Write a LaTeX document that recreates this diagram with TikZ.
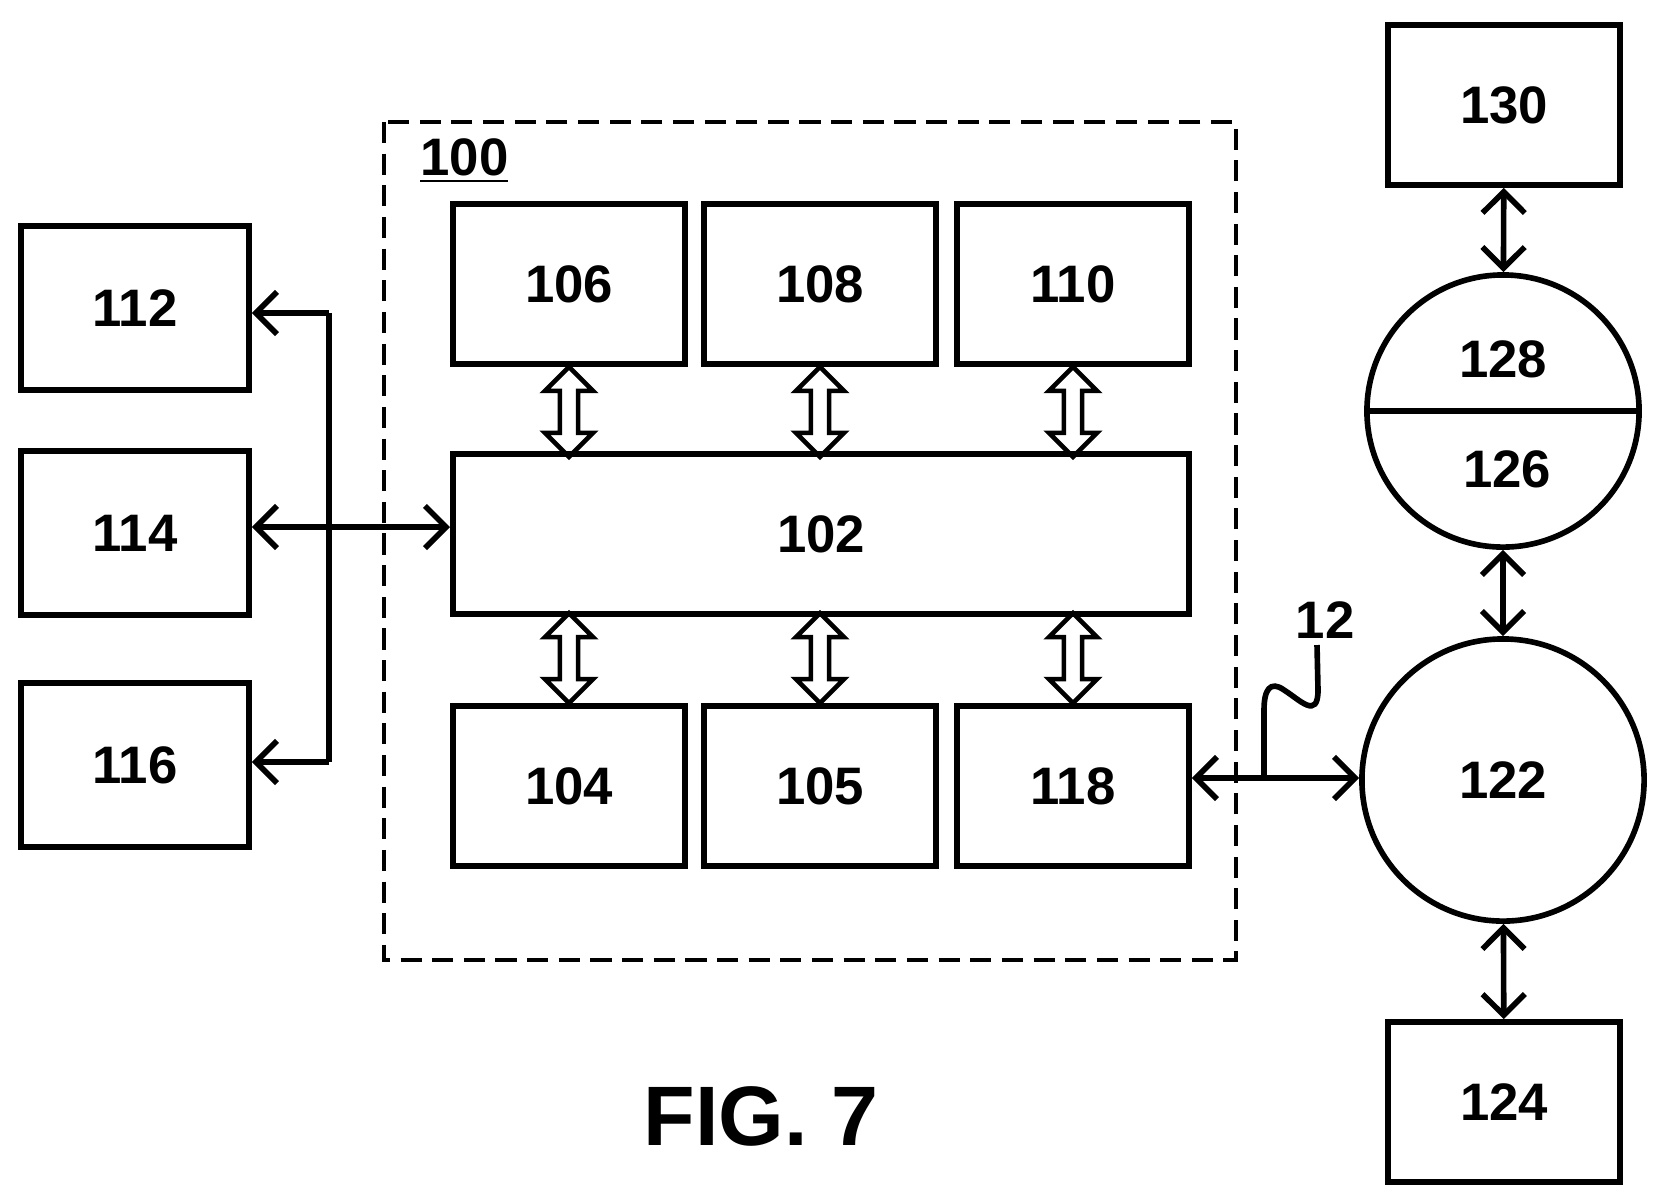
\documentclass[tikz,border=0pt]{standalone}
\usepackage{fontspec}
\setmainfont{Liberation Sans}
\usetikzlibrary{positioning,shapes.arrows,calc,arrows.meta}
\tikzset{
  blk/.style={draw, line width=1.6pt, minimum width=2.32cm, minimum height=1.6cm, font=\fontsize{15}{18}\selectfont\bfseries},
  wide/.style={blk, minimum width=7.36cm},
  side/.style={blk, minimum width=2.28cm, minimum height=1.64cm},
  rnd/.style={draw, line width=1.6pt, circle, inner sep=0pt, font=\fontsize{15}{18}\selectfont\bfseries},
  hol/.style={draw, line width=1.3pt, double arrow, rotate=90, minimum height=0.9cm, minimum width=0.48cm, double arrow head extend=0.12cm, inner sep=0.05cm},
  link/.style={line width=1.6pt, <->, >={Straight Barb[length=6pt,width=12pt]}},
  tip/.style={line width=1.6pt, ->, >={Straight Barb[length=6pt,width=12pt]}}
}
\begin{document}
\begin{tikzpicture}[x=0.01cm, y=-0.01cm]
\useasboundingbox (0,0) rectangle (1655,1199);
% frame 100
\draw[line width=1.3pt, dash pattern=on 6pt off 3pt] (384,122) rectangle (1236,960);
\node[font=\fontsize{15}{18}\selectfont\bfseries, anchor=west] (lbl) at (408,161) {\underline{100}};
% inner blocks
\node[blk] (b106) at (569,284) {106};
\node[blk] (b108) at (820,284) {108};
\node[blk] (b110) at (1073,284) {110};
\node[wide] (b102) at (821,534) {102};
\node[blk] (b104) at (569,786) {104};
\node[blk] (b105) at (820,786) {105};
\node[blk] (b118) at (1073,786) {118};
\foreach \u/\v in {b106/b104,b108/b105,b110/b118}{
  \node[hol] at ($(\u.south)+(0,45)$) {};
  \node[hol] at ($(\v.north)+(0,-45)$) {};
}
% left blocks
\node[side] (b112) at (135,308) {112};
\node[side] (b114) at (135,533) {114};
\node[side] (b116) at (135,765) {116};
\coordinate (j1) at (329,313);
\coordinate (j2) at (329,762);
\draw[tip] (j1) -- (b112.east |- j1);
\draw[tip] (j2) -- (b116.east |- j2);
\draw[line width=1.6pt] (j1) -- (j2);
\draw[link] (b114.east |- 0,527) -- (b102.west |- 0,527);
% right side
\node[blk] (b130) at (1504,105) {130};
\node[rnd, minimum size=2.72cm] (c128) at (1503,411) {};
\draw[line width=1.6pt] (c128.west) -- (c128.east);
\node[font=\fontsize{15}{18}\selectfont\bfseries] at (1503,359) {128};
\node[font=\fontsize{15}{18}\selectfont\bfseries] at (1507,469) {126};
\node[rnd, minimum size=2.82cm] (c122) at (1503,780) {122};
\node[blk] (b124) at (1504,1102) {124};
\draw[link] (b130) -- (c128);
\draw[link] (c128) -- (c122);
\draw[link] (c122) -- (b124);
\draw[link] (b118.east |- 0,778) -- (c122.west |- 0,778);
% channel 12
\coordinate (s0) at (1264,778);
\draw[line width=1.6pt] (s0) -- (1264,710) .. controls (1264,690) and (1270,680) .. (1284,690)
  .. controls (1300,700) and (1318,720) .. (1318,690) -- (1317,645);
\node[font=\fontsize{15}{18}\selectfont\bfseries] (l12) at (1325,620) {12};
\node[font=\fontsize{24}{30}\selectfont\bfseries] (fig) at (761,1116) {FIG. 7};
\end{tikzpicture}
\end{document}
